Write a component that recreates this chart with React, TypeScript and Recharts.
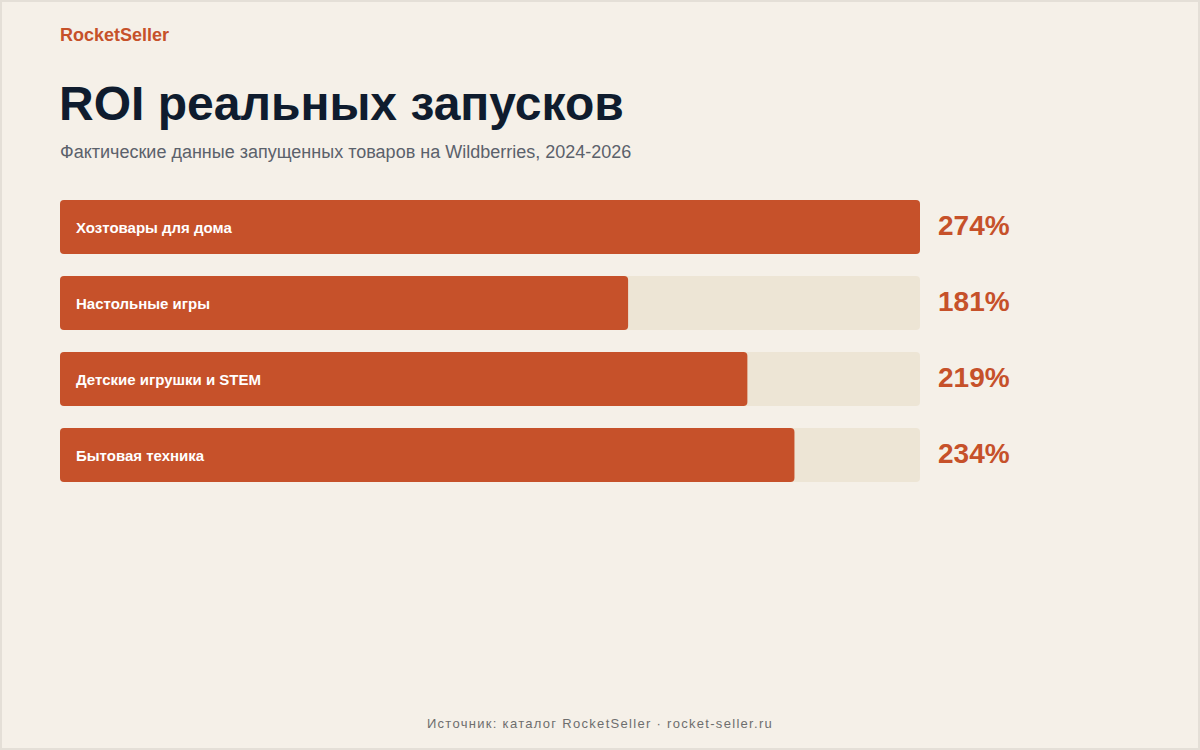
import React from 'react';
import { BarChart, Bar, XAxis, YAxis, LabelList } from 'recharts';

// ROI by category, %
const categories = ['Хозтовары для дома', 'Настольные игры', 'Детские игрушки и STEM', 'Бытовая техника'];
const roiValues = [274, 181, 219, 234];
const maxRoi = 274;

const data = categories.map((name, i) => ({ name, roi: roiValues[i] }));

const ACCENT = '#c6512a';
const TRACK = '#ede5d5';
const BG = '#f5f0e8';
const FONT = '"Liberation Sans", Arial, sans-serif';

const NameLabel = (props: any) => {
  const { x, y, height, index } = props;
  return (
    <text
      x={x + 16}
      y={y + height / 2 + 1}
      dy="0.35em"
      fill="#ffffff"
      fontSize={15}
      fontWeight={700}
      fontFamily={FONT}
    >
      {categories[index]}
    </text>
  );
};

const ValueLabel = (props: any) => {
  const { x, y, width, height, value } = props;
  // right edge of the track = full-scale width
  const right = x + (width * maxRoi) / value;
  return (
    <text
      x={right + 18}
      y={y + height / 2 - 2}
      dy="0.36em"
      fill={ACCENT}
      fontSize={28}
      fontWeight={700}
      fontFamily={FONT}
    >
      {value}%
    </text>
  );
};

const App: React.FC = () => {
  return (
    <div
      style={{
        position: 'fixed',
        left: 0,
        top: 0,
        width: 1200,
        height: 750,
        background: BG,
        boxShadow: 'inset 0 0 0 2px #e4dfd7',
        fontFamily: FONT,
        overflow: 'hidden',
      }}
    >
      <div style={{ position: 'absolute', left: 60, top: 25, fontSize: 18, fontWeight: 700, color: ACCENT }}>
        RocketSeller
      </div>
      <div
        style={{
          position: 'absolute',
          left: 59,
          top: 74,
          fontSize: 48,
          fontWeight: 700,
          color: '#0f1c2e',
          lineHeight: '60px',
        }}
      >
        ROI реальных запусков
      </div>
      <div style={{ position: 'absolute', left: 60, top: 142, fontSize: 18, color: '#5b616b' }}>
        Фактические данные запущенных товаров на Wildberries, 2024-2026
      </div>

      <div style={{ position: 'absolute', left: 0, top: 0 }}>
        <BarChart
          width={1200}
          height={750}
          data={data}
          layout="vertical"
          margin={{ top: 189, right: 280, bottom: 257, left: 60 }}
          barCategoryGap={22}
        >
          <XAxis type="number" domain={[0, maxRoi]} hide />
          <YAxis type="category" dataKey="name" hide />
          <Bar
            dataKey="roi"
            fill={ACCENT}
            barSize={54}
            radius={4}
            background={{ fill: TRACK, radius: 4 }}
            isAnimationActive={false}
          >
            <LabelList dataKey="name" content={<NameLabel />} />
            <LabelList dataKey="roi" content={<ValueLabel />} />
          </Bar>
        </BarChart>
      </div>

      <div
        style={{
          position: 'absolute',
          left: 0,
          width: 1200,
          top: 716,
          textAlign: 'center',
          fontSize: 13,
          letterSpacing: 1.3,
          color: '#6e6e6e',
        }}
      >
        Источник: каталог RocketSeller · rocket-seller.ru
      </div>
    </div>
  );
};

export default App;
